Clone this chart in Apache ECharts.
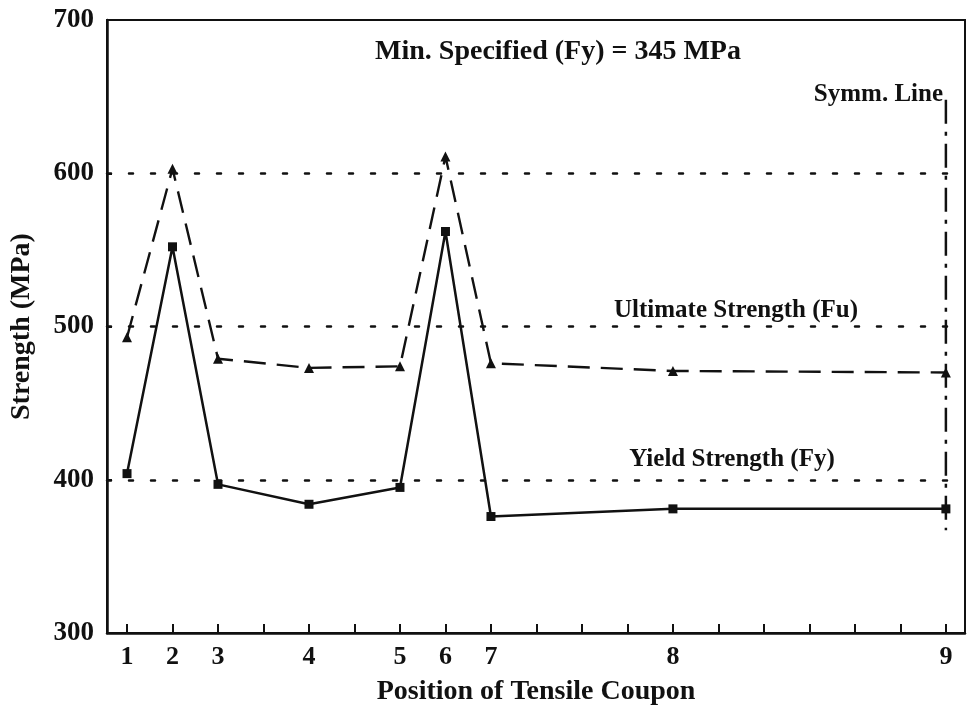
<!DOCTYPE html>
<html>
<head>
<meta charset="utf-8">
<title>Strength vs. Position of Tensile Coupon</title>
<script src="https://cdn.jsdelivr.net/npm/echarts@6/dist/echarts.min.js"></script>
<style>
  html, body { margin: 0; padding: 0; background: #fff; }
  #chart { width: 967px; height: 715px; }
</style>
</head>
<body>
<div id="chart"></div>
<script>
// Coupon labels and their offsets along the section (units of tick spacing)
const couponLabels = ['1', '2', '3', '4', '5', '6', '7', '8', '9'];
const couponOffsets = [0, 1, 2, 4, 6, 7, 8, 12, 18];
// Measured strengths (MPa)
const yieldStrength = [404, 552, 397, 384, 395, 562, 376, 381, 381];
const ultimateStrength = [493, 603, 479, 473, 474, 611, 476, 471, 470];
// Axis ticks and dotted reference levels
const yTicks = [300, 400, 500, 600, 700];
const refLevels = [400, 500, 600];
const xTickOffsets = [0, 1, 2, 3, 4, 5, 6, 7, 8, 9, 10, 11, 12, 13, 14, 15, 16, 17, 18];
const symmLine = { x: 18, from: 367, to: 648 };

const X_MIN = -0.44, X_MAX = 18.42, REF_END = 18.22;
const FONT = '"Liberation Serif", "DejaVu Serif", serif';
const INK = '#111';

const pairs = (vals) => couponOffsets.map((x, i) => [x, vals[i]]);

const chart = echarts.init(document.getElementById('chart'), null, { renderer: 'canvas' });

chart.setOption({
  backgroundColor: '#fff',
  animation: false,
  grid: {
    left: 107, top: 20, right: 2, bottom: 82,
    show: true, borderColor: INK, borderWidth: 2, backgroundColor: 'transparent'
  },
  xAxis: {
    type: 'value',
    min: X_MIN,
    max: X_MAX,
    name: 'Position of Tensile Coupon',
    nameLocation: 'middle',
    nameGap: 45,
    nameTextStyle: { fontFamily: FONT, fontSize: 28, fontWeight: 'bold', color: INK },
    axisLine: { show: true, onZero: false, lineStyle: { color: INK, width: 2.5 } },
    axisTick: {
      show: true, inside: true, length: 9,
      lineStyle: { color: INK, width: 2 },
      customValues: xTickOffsets
    },
    axisLabel: {
      customValues: couponOffsets,
      formatter: (v) => couponLabels[couponOffsets.indexOf(v)],
      fontFamily: FONT, fontSize: 26, fontWeight: 'bold', color: INK, margin: 11
    },
    splitLine: { show: false }
  },
  yAxis: {
    type: 'value',
    min: 300,
    max: 700,
    interval: 100,
    name: 'Strength (MPa)',
    nameLocation: 'middle',
    nameGap: 71,
    nameTextStyle: { fontFamily: FONT, fontSize: 28, fontWeight: 'bold', color: INK },
    axisLine: { show: true, onZero: false, lineStyle: { color: INK, width: 2.5 } },
    axisTick: { show: true, inside: true, length: 5, lineStyle: { color: INK, width: 2 } },
    axisLabel: {
      customValues: yTicks,
      fontFamily: FONT, fontSize: 27, fontWeight: 'bold', color: INK, margin: 13
    },
    splitLine: { show: false }
  },
  series: [
    {
      name: 'Ultimate Strength (Fu)',
      type: 'line',
      data: pairs(ultimateStrength),
      symbol: 'triangle',
      symbolSize: 10,
      itemStyle: { color: INK },
      lineStyle: { color: INK, width: 2.4, type: [22, 11] },
      z: 3,
      markLine: {
        silent: true,
        symbol: 'none',
        label: { show: false },
        lineStyle: { color: INK, width: 2.5, type: [4, 18], cap: 'round' },
        data: refLevels.map((v) => [{ coord: [X_MIN, v] }, { coord: [REF_END, v] }])
      }
    },
    {
      name: 'Yield Strength (Fy)',
      type: 'line',
      data: pairs(yieldStrength),
      symbol: 'rect',
      symbolSize: 9,
      itemStyle: { color: INK },
      lineStyle: { color: INK, width: 2.5 },
      z: 4
    },
    {
      name: 'Symm. Line',
      type: 'line',
      data: [[symmLine.x, symmLine.to], [symmLine.x, symmLine.from]],
      symbol: 'none',
      lineStyle: { color: INK, width: 2.5, type: [24, 8, 4, 8] },
      z: 2
    }
  ],
  graphic: [
    {
      type: 'text', x: 558, y: 52,
      style: { text: 'Min. Specified (Fy) = 345 MPa', fontFamily: FONT, fontSize: 28, fontWeight: 'bold', fill: INK, align: 'center', verticalAlign: 'middle' }
    },
    {
      type: 'text', x: 943, y: 95,
      style: { text: 'Symm. Line', fontFamily: FONT, fontSize: 25, fontWeight: 'bold', fill: INK, align: 'right', verticalAlign: 'middle' }
    },
    {
      type: 'text', x: 736, y: 311,
      style: { text: 'Ultimate Strength (Fu)', fontFamily: FONT, fontSize: 25, fontWeight: 'bold', fill: INK, align: 'center', verticalAlign: 'middle' }
    },
    {
      type: 'text', x: 732, y: 460,
      style: { text: 'Yield Strength (Fy)', fontFamily: FONT, fontSize: 25, fontWeight: 'bold', fill: INK, align: 'center', verticalAlign: 'middle' }
    }
  ]
});
</script>
</body>
</html>
